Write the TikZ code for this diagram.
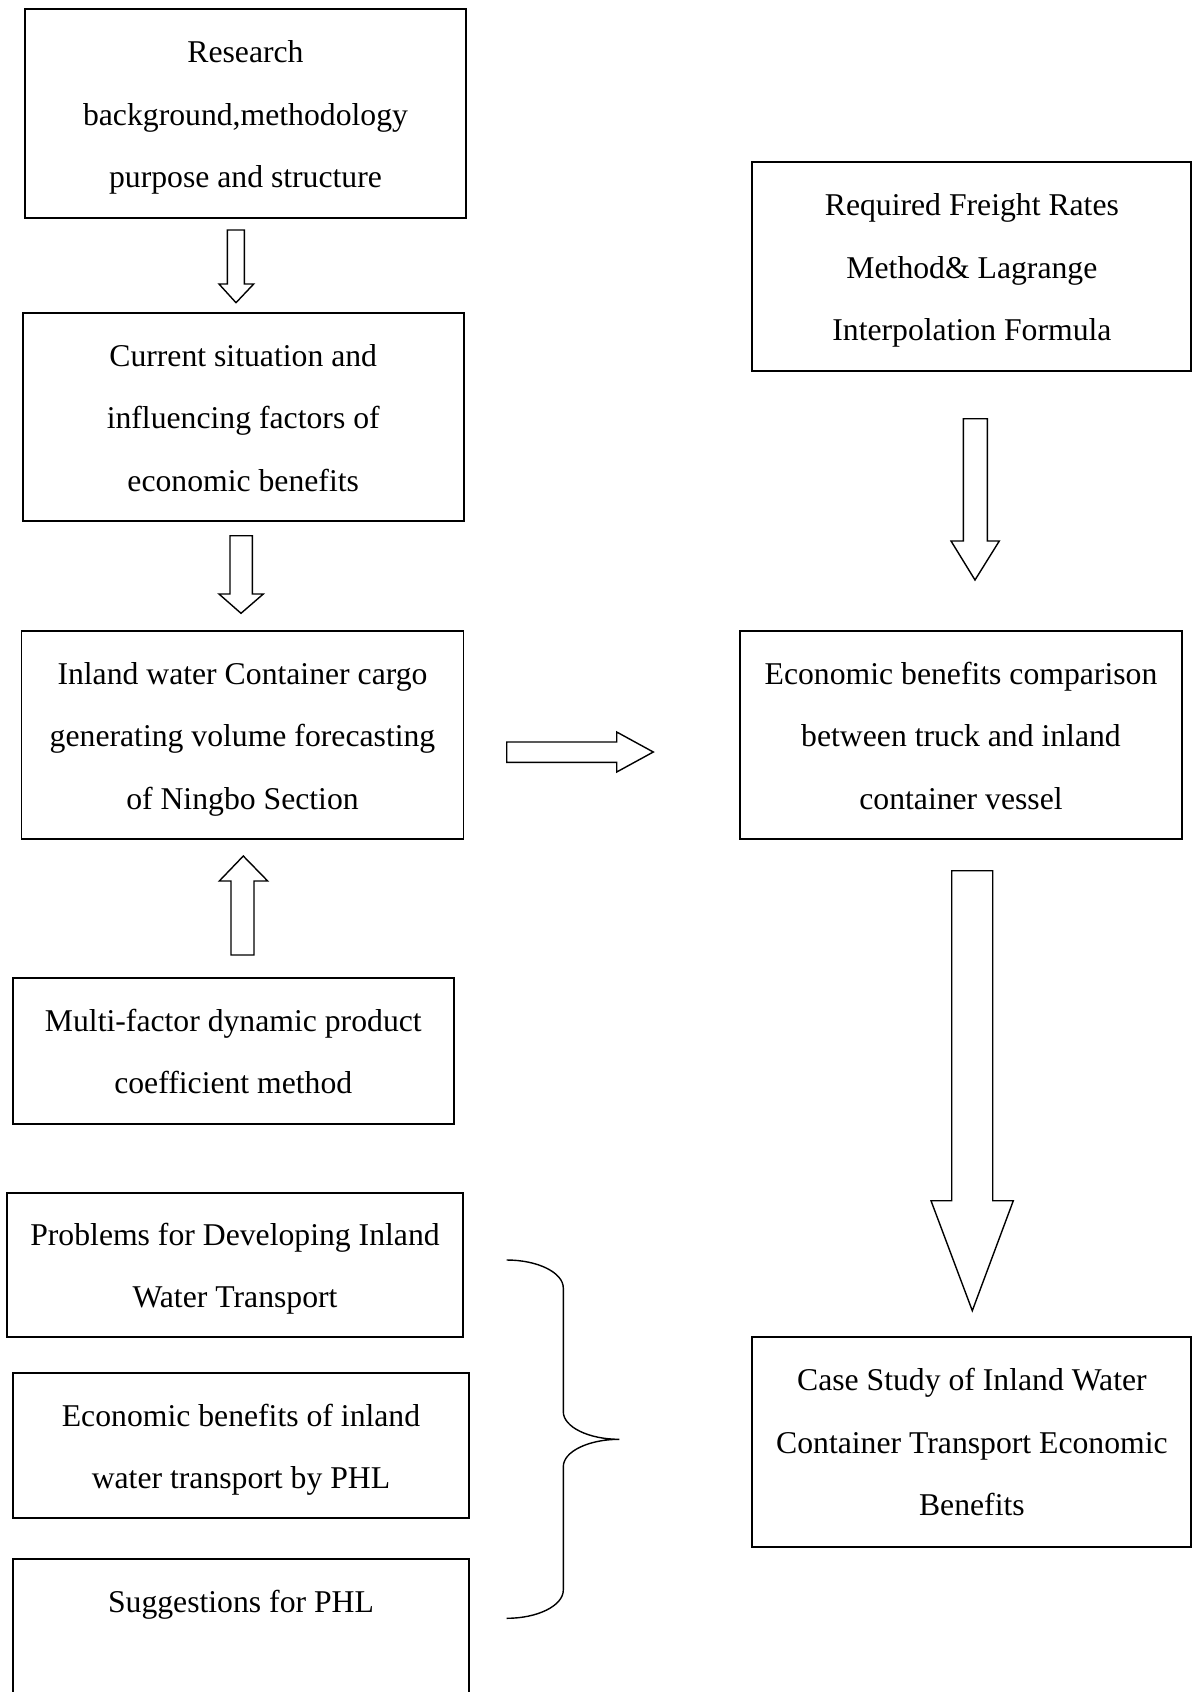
\documentclass[tikz,border=0pt]{standalone}
\usepackage{fontspec}
\setmainfont{Liberation Serif}
\newcommand{\mystrut}{\rule[-6.6pt]{0pt}{36.6pt}}
\begin{document}
\begin{tikzpicture}[x=1pt,y=-1pt,
  box/.style={draw, line width=1.9pt, rectangle, inner sep=0pt, align=center,
    font=\fontsize{31.7pt}{62.5pt}\selectfont},
  blockarrow/.style={draw, line width=1.4pt, line join=miter, fill=white},
  bracepath/.style={draw, line width=1.4pt}]
\useasboundingbox (0,0) rectangle (1192,1692);
\clip (0,0) rectangle (1192,1692);

% left column
\node[box, minimum width=441pt, minimum height=209pt] (research) at (245.5,113.5)
  {\mystrut Research\\\mystrut background,methodology\\\mystrut purpose and structure};
\node[box, minimum width=441pt, minimum height=208pt] (current) at (243.2,417)
  {\mystrut Current situation and\\\mystrut influencing factors of\\\mystrut economic benefits};
\node[box, minimum width=442pt, minimum height=208pt] (inland) at (242.5,735)
  {\mystrut Inland water Container cargo\\\mystrut generating volume forecasting\\\mystrut of Ningbo Section};
\node[box, minimum width=441pt, minimum height=146pt] (multi) at (233.3,1051)
  {\mystrut Multi-factor dynamic product\\\mystrut coefficient method};
\node[box, minimum width=456.6pt, minimum height=144pt] (problems) at (235,1264.7)
  {\mystrut Problems for Developing Inland\\\mystrut Water Transport};
\node[box, minimum width=456.6pt, minimum height=145pt] (ebphl) at (241,1445.8)
  {\mystrut Economic benefits of inland\\\mystrut water transport by PHL};
\node[box, minimum width=456.6pt, minimum height=209pt] (sugg) at (241,1663.5)
  {\mystrut Suggestions for PHL\\\mystrut\\\mystrut};

% right column
\node[box, minimum width=439pt, minimum height=208.4pt] (rfr) at (971.9,266.5)
  {\mystrut Required Freight Rates\\\mystrut Method\& Lagrange\\\mystrut Interpolation Formula};
\node[box, minimum width=442pt, minimum height=208pt] (compare) at (961,734.9)
  {\mystrut Economic benefits comparison\\\mystrut between truck and inland\\\mystrut container vessel};
\node[box, minimum width=439pt, minimum height=210pt] (case) at (971.9,1441.7)
  {\mystrut Case Study of Inland Water\\\mystrut Container Transport Economic\\\mystrut Benefits};

% block arrows
\draw[blockarrow] (227.3,230) -- (244.3,230) -- (244.3,284) -- (253.7,284) -- (236,302.7) -- (219,284) -- (227.3,284) -- cycle;
\draw[blockarrow] (230,535.7) -- (252.3,535.7) -- (252.3,594) -- (263.3,594) -- (241,613.3) -- (219,594) -- (230,594) -- cycle;
\draw[blockarrow] (231,955) -- (254,955) -- (254,881) -- (267.7,881) -- (243.3,856) -- (219.3,881) -- (231,881) -- cycle;
\draw[blockarrow] (506.7,742) -- (616.7,742) -- (616.7,732) -- (653.3,752) -- (616.7,772) -- (616.7,762.3) -- (506.7,762.3) -- cycle;
\draw[blockarrow] (963.3,418.7) -- (987.3,418.7) -- (987.3,541) -- (999.3,541) -- (975,580) -- (951,541) -- (963.3,541) -- cycle;
\draw[blockarrow] (951.7,870.7) -- (992.7,870.7) -- (992.7,1200.7) -- (1013.3,1200.7) -- (972.3,1310.7) -- (931,1200.7) -- (951.7,1200.7) -- cycle;

% brace
\draw[bracepath] (506.7,1260) .. controls (537.8,1260) and (563.3,1272.6) .. (563.3,1288)
  -- (563.3,1411.7) .. controls (563.3,1426.9) and (588.5,1439.3) .. (619.3,1439.3)
  .. controls (588.5,1439.3) and (563.3,1451.5) .. (563.3,1466.7)
  -- (563.3,1590) .. controls (563.3,1605.6) and (537.8,1618.3) .. (506.7,1618.3);
\end{tikzpicture}
\end{document}
